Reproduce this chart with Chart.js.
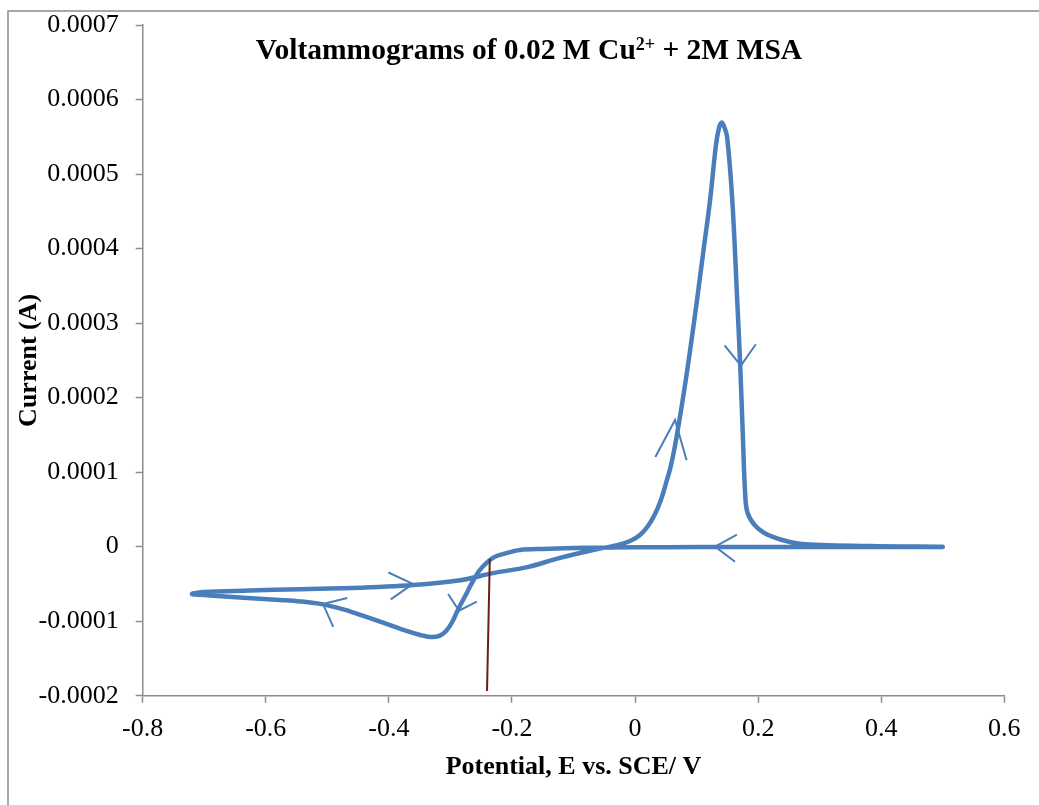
<!DOCTYPE html>
<html>
<head>
<meta charset="utf-8">
<script src="https://cdn.jsdelivr.net/npm/chart.js@4.4.0/dist/chart.umd.min.js"></script>
<style>
  html, body { margin: 0; padding: 0; background: #fff; }
  canvas { display: block; }
</style>
</head>
<body>
<canvas id="cvChart" width="1039" height="805"></canvas>
<script>
// cyclic voltammogram: scan starts at +0.5 V going negative
const potential = [
  0.500, 0.400, 0.300, 0.200, 0.100, 0.000, -0.080, -0.150, -0.187, -0.208,
  -0.231, -0.252, -0.265, -0.276, -0.288, -0.297, -0.307, -0.318, -0.333, -0.349,
  -0.374, -0.406, -0.439, -0.471, -0.507, -0.544, -0.577, -0.630, -0.691, -0.720,
  -0.700, -0.626, -0.544, -0.463, -0.361, -0.284, -0.231, -0.175, -0.122, -0.068,
  -0.029, -0.008, 0.008, 0.021, 0.0325, 0.042, 0.050, 0.0585, 0.0666, 0.0747,
  0.0829, 0.0926, 0.1007, 0.1105, 0.1219, 0.1316, 0.1365, 0.1406, 0.1446, 0.1495,
  0.158, 0.166, 0.171, 0.175, 0.179, 0.183, 0.198, 0.224, 0.268, 0.382, 0.500
];
const current = [
  -0.4e-6, -0.4e-6, -0.5e-6, -0.5e-6, -0.6e-6, -0.8e-6, -1.5e-6, -3.0e-6, -4.4e-6, -8.4e-6,
  -15.1e-6, -31.2e-6, -48.7e-6, -66.2e-6, -85e-6, -101.1e-6, -113.2e-6, -119.8e-6, -121.2e-6, -118.5e-6,
  -112.4e-6, -103e-6, -93.6e-6, -84.9e-6, -77.5e-6, -73.5e-6, -71.5e-6, -68.8e-6, -65.5e-6, -63.5e-6,
  -61e-6, -59e-6, -57e-6, -55.5e-6, -51.4e-6, -45e-6, -35.5e-6, -27.5e-6, -15e-6, -4.5e-6,
  2e-6, 7.6e-6, 15.7e-6, 27.8e-6, 43.9e-6, 62.7e-6, 84.2e-6, 109.7e-6, 143e-6, 183e-6,
  226e-6, 282e-6, 331e-6, 393e-6, 465e-6, 540e-6, 562e-6, 569e-6, 564e-6, 550e-6,
  465e-6, 331e-6, 241e-6, 153e-6, 70e-6, 45e-6, 26e-6, 13e-6, 4e-6, 1e-6, 0
];

// thin dark-red guide line near -0.24 V
const guidePotential = [-0.236, -0.2405];
const guideCurrent = [-16.5e-6, -193.7e-6];

// scan direction arrows: where they sit and which way they point (screen degrees, 0 = right, 90 = down)
const arrowPotential = [-0.361, -0.507, -0.286, 0.065, 0.172, 0.130];
const arrowCurrent = [-50e-6, -77e-6, -86e-6, 170e-6, 243e-6, 0];
const arrowHeading = [-5, 206, 105, -84, 88, 184];
const arrowArm = [27, 25, 20, 42, 26, 25];
const arrowSpread = [30, 40, 48, 22, 37, 33];

const xTicks = [-0.8, -0.6, -0.4, -0.2, 0, 0.2, 0.4, 0.6];
const xTickLabels = ['-0.8', '-0.6', '-0.4', '-0.2', '0', '0.2', '0.4', '0.6'];
const yTicks = [-0.0002, -0.0001, 0, 0.0001, 0.0002, 0.0003, 0.0004, 0.0005, 0.0006, 0.0007];
const yTickLabels = ['-0.0002', '-0.0001', '0', '0.0001', '0.0002', '0.0003', '0.0004', '0.0005', '0.0006', '0.0007'];

const serif = '"Liberation Serif", "Times New Roman", serif';
const axisGrey = '#8c8c8c';
const curveBlue = '#4a7ebb';

const framePlugin = {
  id: 'frame',
  beforeDraw(chart) {
    const ctx = chart.ctx;
    ctx.save();
    ctx.fillStyle = '#fff';
    ctx.fillRect(0, 0, chart.width, chart.height);
    ctx.strokeStyle = '#8a8a8a';
    ctx.lineWidth = 1.5;
    ctx.beginPath();
    ctx.moveTo(8, chart.height);
    ctx.lineTo(8, 11);
    ctx.lineTo(chart.width, 11);
    ctx.stroke();
    ctx.restore();
  }
};

const arrowPlugin = {
  id: 'scanArrows',
  beforeDatasetsDraw(chart) {
    const ctx = chart.ctx;
    const xs = chart.scales.x, ys = chart.scales.y;
    ctx.save();
    ctx.strokeStyle = curveBlue;
    ctx.lineWidth = 2;
    arrowPotential.forEach((p, i) => {
      const px = xs.getPixelForValue(p);
      const py = ys.getPixelForValue(arrowCurrent[i]);
      const back = (arrowHeading[i] + 180) * Math.PI / 180;
      const spread = arrowSpread[i] * Math.PI / 180;
      const len = arrowArm[i];
      ctx.beginPath();
      ctx.moveTo(px + len * Math.cos(back - spread), py + len * Math.sin(back - spread));
      ctx.lineTo(px, py);
      ctx.lineTo(px + len * Math.cos(back + spread), py + len * Math.sin(back + spread));
      ctx.stroke();
    });
    ctx.restore();
  }
};

const titlePlugin = {
  id: 'cvTitle',
  afterDraw(chart) {
    const ctx = chart.ctx;
    const big = 'bold 29.5px ' + serif;
    const small = 'bold 18px ' + serif;
    const parts = [
      ['Voltammograms of 0.02 M Cu', big, 0],
      ['2+', small, -9],
      [' + 2M MSA', big, 0]
    ];
    ctx.save();
    ctx.fillStyle = '#000';
    ctx.textBaseline = 'alphabetic';
    let total = 0;
    parts.forEach(p => { ctx.font = p[1]; total += ctx.measureText(p[0]).width; });
    let x = 529 - total / 2;
    parts.forEach(p => {
      ctx.font = p[1];
      ctx.fillText(p[0], x, 59 + p[2]);
      x += ctx.measureText(p[0]).width;
    });
    ctx.restore();
  }
};

new Chart(document.getElementById('cvChart'), {
  type: 'scatter',
  data: {
    datasets: [
      {
        data: guidePotential.map((p, i) => ({ x: p, y: guideCurrent[i] })),
        showLine: true,
        borderColor: '#6b1e1e',
        borderWidth: 2,
        pointRadius: 0,
        order: 0
      },
      {
        data: potential.map((p, i) => ({ x: p, y: current[i] })),
        showLine: true,
        borderColor: curveBlue,
        borderWidth: 4.5,
        borderCapStyle: 'round',
        borderJoinStyle: 'round',
        tension: 0.35,
        pointRadius: 0,
        order: 1
      }
    ]
  },
  options: {
    responsive: false,
    devicePixelRatio: 1,
    animation: false,
    layout: { padding: { left: 0, top: 25, right: 34.7, bottom: 0 } },
    plugins: {
      legend: { display: false },
      tooltip: { enabled: false }
    },
    scales: {
      x: {
        type: 'linear',
        min: -0.8,
        max: 0.6,
        afterBuildTicks: s => { s.ticks = xTicks.map(v => ({ value: v })); },
        afterFit: s => { s.height = 109.3; },
        ticks: {
          callback: (v, i) => xTickLabels[i],
          color: '#000',
          font: { family: serif, size: 26 },
          padding: 11,
          maxRotation: 0,
          autoSkip: false
        },
        grid: { drawOnChartArea: false, tickLength: 7, tickColor: axisGrey, tickWidth: 1.5 },
        border: { color: axisGrey, width: 1.5 },
        title: {
          display: true,
          text: 'Potential, E vs. SCE/ V',
          color: '#000',
          font: { family: serif, size: 26, weight: 'bold' },
          padding: { top: 0, bottom: 22 }
        }
      },
      y: {
        type: 'linear',
        min: -0.0002,
        max: 0.0007,
        afterBuildTicks: s => { s.ticks = yTicks.map(v => ({ value: v })); },
        afterFit: s => { s.width = 142.7; },
        ticks: {
          callback: (v, i) => yTickLabels[i],
          color: '#000',
          // small line height keeps the top label from pushing the plot area down
          font: { family: serif, size: 26, lineHeight: 0.3 },
          padding: 17,
          autoSkip: false
        },
        grid: { drawOnChartArea: false, tickLength: 7, tickColor: axisGrey, tickWidth: 1.5 },
        border: { color: axisGrey, width: 1.5 },
        title: {
          display: true,
          text: 'Current (A)',
          color: '#000',
          font: { family: serif, size: 26, weight: 'bold' },
          padding: { top: 14, bottom: 0 }
        }
      }
    }
  },
  plugins: [framePlugin, arrowPlugin, titlePlugin]
});
</script>
</body>
</html>
